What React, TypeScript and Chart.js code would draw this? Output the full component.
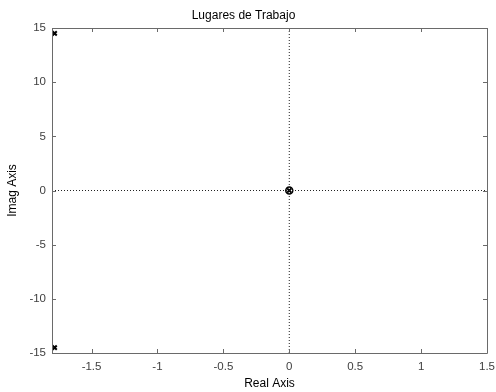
import React, { useEffect, useRef } from "react";
import { Chart, registerables } from "chart.js";

Chart.register(...registerables);

// Root locus: open-loop poles and zeros
const poleRe = [-1.78, -1.78, 0];
const poleIm = [14.5, -14.5, 0];
const zeroRe = [0];
const zeroIm = [0];

// Axis limits and tick values
const xLimits = [-1.8, 1.5];
const yLimits = [-15, 15];
const xTicks = [-1.5, -1, -0.5, 0, 0.5, 1, 1.5];
const yTicks = [-15, -10, -5, 0, 5, 10, 15];

const chartTitle = "Lugares de Trabajo";
const xTitle = "Real Axis";
const yTitle = "Imag Axis";

const AXIS_COLOR = "#6a6a6a";
const TICK_TEXT = "#404040";
const FONT = "'Liberation Sans', Arial, Helvetica, sans-serif";

// Box around the plot with short inward tick marks on all four sides
const boxTicks = {
  id: "boxTicks",
  afterDatasetsDraw(chart: any) {
    const { ctx, chartArea: a, scales } = chart;
    const len = 4;
    ctx.save();
    ctx.strokeStyle = AXIS_COLOR;
    ctx.lineWidth = 1;
    ctx.beginPath();
    ctx.rect(Math.round(a.left) + 0.5, Math.round(a.top) + 0.5,
      Math.round(a.right - a.left), Math.round(a.bottom - a.top));
    for (const v of xTicks) {
      const px = Math.round(scales.x.getPixelForValue(v)) + 0.5;
      ctx.moveTo(px, a.bottom);
      ctx.lineTo(px, a.bottom - len);
      ctx.moveTo(px, a.top);
      ctx.lineTo(px, a.top + len);
    }
    for (const v of yTicks) {
      const py = Math.round(scales.y.getPixelForValue(v)) + 0.5;
      ctx.moveTo(a.left, py);
      ctx.lineTo(a.left + len, py);
      ctx.moveTo(a.right, py);
      ctx.lineTo(a.right - len, py);
    }
    ctx.stroke();
    ctx.restore();
  },
};

export default function App() {
  const ref = useRef<HTMLCanvasElement | null>(null);

  useEffect(() => {
    if (!ref.current) return;
    const poles = poleRe.map((x, i) => ({ x, y: poleIm[i] }));
    const zeros = zeroRe.map((x, i) => ({ x, y: zeroIm[i] }));

    const chart = new Chart(ref.current, {
      type: "scatter",
      data: {
        datasets: [
          {
            label: "real",
            data: [{ x: xLimits[0], y: 0 }, { x: xLimits[1], y: 0 }],
            showLine: true,
            borderColor: "#222",
            borderWidth: 1,
            borderDash: [1, 2],
            pointRadius: 0,
          },
          {
            label: "imag",
            data: [{ x: 0, y: yLimits[0] }, { x: 0, y: yLimits[1] }],
            showLine: true,
            borderColor: "#222",
            borderWidth: 1,
            borderDash: [1, 2],
            pointRadius: 0,
          },
          {
            label: "zeros",
            data: zeros,
            pointStyle: "circle",
            pointRadius: 3.5,
            borderColor: "#000",
            backgroundColor: "rgba(0,0,0,0)",
            borderWidth: 1.5,
          },
          {
            label: "poles",
            data: poles,
            pointStyle: "crossRot",
            pointRadius: 3,
            borderColor: "#000",
            borderWidth: 2,
          },
        ],
      },
      options: {
        responsive: false,
        animation: false,
        layout: { padding: { left: 0, right: 9, top: 0, bottom: 0 } },
        plugins: {
          legend: { display: false },
          tooltip: { enabled: false },
          title: {
            display: true,
            text: chartTitle,
            color: "#000",
            font: { family: FONT, size: 12, weight: "normal", lineHeight: 1.2 },
            padding: { top: 8, bottom: 5.6 },
          },
        },
        scales: {
          x: {
            type: "linear",
            min: xLimits[0],
            max: xLimits[1],
            afterBuildTicks: (s: any) => {
              s.ticks = xTicks.map((value) => ({ value }));
            },
            afterFit: (s: any) => {
              s.height = 39;
              s.paddingLeft = 0;
              s.paddingRight = 0;
            },
            grid: { display: false, drawTicks: false },
            border: { display: false },
            ticks: {
              color: TICK_TEXT,
              padding: 7,
              maxRotation: 0,
              font: { family: FONT, size: 11.5 },
              callback: (v: any) => String(v),
            },
            title: {
              display: true,
              text: xTitle,
              color: "#000",
              font: { family: FONT, size: 12 },
              padding: { top: 0, bottom: 1 },
            },
          },
          y: {
            type: "linear",
            min: yLimits[0],
            max: yLimits[1],
            afterBuildTicks: (s: any) => {
              s.ticks = yTicks.map((value) => ({ value }));
            },
            afterFit: (s: any) => {
              s.width = 52;
              s.paddingTop = 0;
              s.paddingBottom = 0;
            },
            grid: { display: false, drawTicks: false },
            border: { display: false },
            ticks: {
              color: TICK_TEXT,
              padding: 6,
              font: { family: FONT, size: 11.5 },
              callback: (v: any) => String(v),
            },
            title: {
              display: true,
              text: yTitle,
              color: "#000",
              font: { family: FONT, size: 12 },
              padding: { top: 5, bottom: 0 },
            },
          },
        },
      },
      plugins: [boxTicks],
    });
    return () => chart.destroy();
  }, []);

  return (
    <div style={{ position: "absolute", left: 0, top: 0, width: 496, height: 392, background: "#fff" }}>
      <canvas ref={ref} width={496} height={392} />
    </div>
  );
}
